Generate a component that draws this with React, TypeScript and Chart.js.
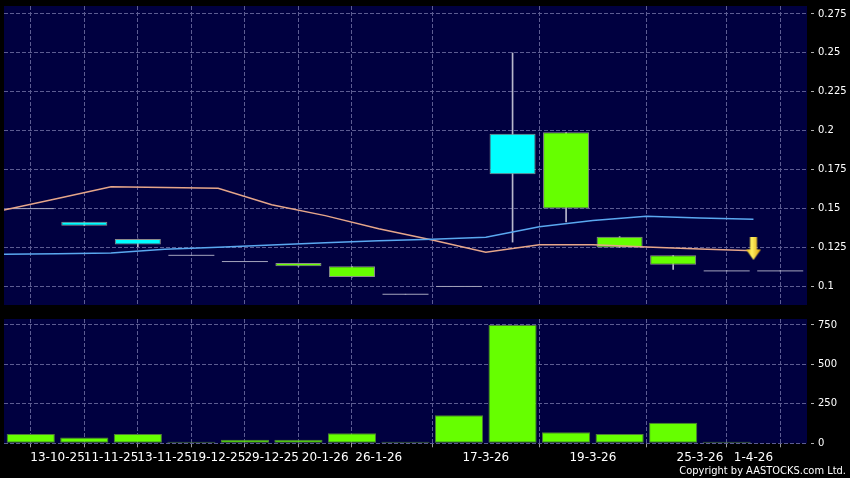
import React, { useEffect, useRef } from 'react';
import { Chart, registerables } from 'chart.js';

Chart.register(...registerables);

// ---------- data ----------
const dateLabels = ['', '13-10-25', '11-11-25', '13-11-25', '19-12-25', '29-12-25', '20-1-26', '26-1-26', '', '17-3-26', '', '19-3-26', '', '25-3-26', '1-4-26'];
const openP = [0.15, 0.139, 0.127, 0.12, 0.116, 0.115, 0.113, 0.095, 0.1, 0.172, 0.199, 0.132, 0.12, 0.11, 0.11];
const highP = [0.15, 0.1415, 0.1305, 0.12, 0.116, 0.115, 0.113, 0.095, 0.1, 0.25, 0.199, 0.132, 0.12, 0.11, 0.11];
const lowP = [0.15, 0.139, 0.1255, 0.12, 0.116, 0.113, 0.106, 0.095, 0.1, 0.1285, 0.1415, 0.125, 0.111, 0.11, 0.11];
const closeP = [0.15, 0.1415, 0.1305, 0.12, 0.116, 0.113, 0.106, 0.095, 0.1, 0.198, 0.15, 0.125, 0.114, 0.11, 0.11];
const maOrange = [0.1491, 0.1565, 0.1641, 0.1636, 0.1631, 0.1525, 0.1455, 0.1371, 0.1299, 0.122, 0.1268, 0.1268, 0.1254, 0.1241, 0.123];
const maBlue = [0.1207, 0.121, 0.1215, 0.1239, 0.1252, 0.1267, 0.1281, 0.1294, 0.1303, 0.1316, 0.1384, 0.1423, 0.1451, 0.144, 0.1432];
const volume = [59, 36, 59, 10, 23, 23, 63, 10, 178, 750, 70, 59, 131, 10, 0];
const priceTicks = [0.1, 0.125, 0.15, 0.175, 0.2, 0.225, 0.25, 0.275];
const volumeTicks = [0, 250, 500, 750];
const priceRange = [0.0881, 0.2801];
const volumeRange = [0, 788];
const signalIndex = 14;
const signalPrice = 0.1241;
const copyrightText = 'Copyright by AASTOCKS.com Ltd.';

// ---------- styles ----------
const NAVY = '#000040';
const GRID = '#5c5c92';
const CYAN = '#00ffff';
const LIME = '#66ff00';
const FONT = 'DejaVu Sans';

const plotBg = {
  id: 'plotBg',
  beforeDraw(chart: any) {
    const { ctx, chartArea: a } = chart;
    ctx.save();
    ctx.fillStyle = NAVY;
    ctx.fillRect(a.left, a.top, a.right - a.left, a.bottom - a.top);
    ctx.restore();
  },
};

function xScale(showLabels: boolean, axisHeight: number) {
  return {
    type: 'linear',
    min: -0.5,
    max: dateLabels.length - 0.5,
    offset: false,
    afterBuildTicks: (s: any) => {
      s.ticks = dateLabels
        .map((d, i) => ({ value: i - 0.5, label: d }))
        .filter((t) => t.label !== '');
    },
    afterFit: (s: any) => {
      s.height = axisHeight;
      s.paddingLeft = 0;
      s.paddingRight = 0;
      s.paddingTop = 0;
      s.paddingBottom = 0;
    },
    ticks: {
      display: showLabels,
      autoSkip: false,
      maxRotation: 0,
      minRotation: 0,
      padding: 3,
      color: '#ffffff',
      font: { family: FONT, size: 12 },
      callback: (v: number) => dateLabels[Math.round(v + 0.5)],
    },
    grid: {
      color: GRID,
      lineWidth: 1,
      drawTicks: showLabels,
      tickLength: 4,
      tickColor: '#9a9a9a',
    },
    border: { display: false, dash: [4, 2] },
  };
}

function yScale(tickValues: number[], range: number[]) {
  return {
    type: 'linear',
    position: 'right',
    min: range[0],
    max: range[1],
    afterBuildTicks: (s: any) => {
      s.ticks = tickValues.map((v) => ({ value: v }));
    },
    afterFit: (s: any) => {
      s.width = 39;
      s.paddingLeft = 0;
      s.paddingRight = 0;
      s.paddingTop = 0;
      s.paddingBottom = 0;
    },
    ticks: {
      color: '#ffffff',
      padding: 4,
      font: { family: FONT, size: 10 },
      callback: (v: number) => String(v),
    },
    grid: {
      color: GRID,
      lineWidth: 1,
      drawTicks: true,
      tickLength: 7,
      tickColor: '#b0b0b0',
      tickBorderDash: [0, 4, 3, 20],
    },
    border: { display: false, dash: [4, 2] },
  };
}

function makeArrow() {
  const cv = document.createElement('canvas');
  cv.width = 16;
  cv.height = 23;
  const c = cv.getContext('2d')!;
  const g = c.createLinearGradient(0, 0, 16, 0);
  g.addColorStop(0, '#e0b000');
  g.addColorStop(0.4, '#fff060');
  g.addColorStop(1, '#d89a00');
  c.fillStyle = g;
  c.fillRect(4.5, 0, 7, 12);
  c.beginPath();
  c.moveTo(0.5, 12);
  c.lineTo(15.5, 12);
  c.lineTo(8, 22.5);
  c.closePath();
  c.fill();
  return cv;
}

export default function App() {
  const topRef = useRef<HTMLCanvasElement>(null);
  const botRef = useRef<HTMLCanvasElement>(null);

  useEffect(() => {
    document.body.style.margin = '0';
    document.body.style.background = '#000';
    const idx = openP.map((_, i) => i);
    const flat = idx.filter((i) => openP[i] === closeP[i] && highP[i] === lowP[i]);

    const top = new Chart(topRef.current!, {
      type: 'bar',
      data: {
        datasets: [
          {
            type: 'bar',
            data: idx.map((i) => ({ x: i, y: [lowP[i], highP[i]] })),
            backgroundColor: '#b8b8cc',
            borderWidth: 0,
            barThickness: 1,
            grouped: false,
            order: 5,
          } as any,
          {
            type: 'bar',
            data: idx.map((i) => ({ x: i, y: [openP[i], closeP[i]] })),
            backgroundColor: idx.map((i) => (closeP[i] > openP[i] ? CYAN : LIME)),
            borderColor: '#8c8c8c',
            borderWidth: 1,
            borderSkipped: false,
            barPercentage: 0.86,
            categoryPercentage: 1,
            grouped: false,
            order: 4,
          } as any,
          {
            type: 'line',
            showLine: false,
            data: flat.map((i) => ({ x: i, y: closeP[i] })),
            pointStyle: 'line',
            pointRadius: 23,
            pointBorderColor: '#a4a4bc',
            pointBorderWidth: 1,
            order: 3,
          } as any,
          {
            type: 'line',
            data: maOrange.map((v, i) => ({ x: i - 0.5, y: v })),
            borderColor: '#e6a68a',
            borderWidth: 1.5,
            pointRadius: 0,
            tension: 0,
            order: 2,
          } as any,
          {
            type: 'line',
            data: maBlue.map((v, i) => ({ x: i - 0.5, y: v })),
            borderColor: '#5aa8f0',
            borderWidth: 1.5,
            pointRadius: 0,
            tension: 0,
            order: 1,
          } as any,
          {
            type: 'line',
            showLine: false,
            data: [{ x: signalIndex - 0.5, y: signalPrice }],
            pointStyle: makeArrow(),
            pointRadius: 10,
            order: 0,
          } as any,
        ],
      },
      options: {
        responsive: false,
        animation: false,
        layout: { autoPadding: false, padding: { left: 4, right: 4, top: 6, bottom: 5 } },
        plugins: { legend: { display: false }, tooltip: { enabled: false }, title: { display: false } },
        scales: {
          x: xScale(false, 0) as any,
          y: yScale(priceTicks, priceRange) as any,
        },
      },
      plugins: [plotBg],
    });

    const bot = new Chart(botRef.current!, {
      type: 'bar',
      data: {
        datasets: [
          {
            data: idx.map((i) => ({ x: i, y: volume[i] })),
            backgroundColor: LIME,
            borderColor: '#4e7e36',
            borderWidth: 1,
            borderSkipped: false,
            barPercentage: 0.9,
            categoryPercentage: 1,
          } as any,
        ],
      },
      options: {
        responsive: false,
        animation: false,
        layout: { autoPadding: false, padding: { left: 4, right: 4, top: 9, bottom: 0 } },
        plugins: {
          legend: { display: false },
          tooltip: { enabled: false },
          title: {
            display: true,
            text: copyrightText,
            position: 'bottom',
            align: 'end',
            color: '#ffffff',
            font: { family: 'DejaVu Sans Condensed', size: 11, weight: 'normal' },
            padding: { top: 0, bottom: 0 },
          },
        },
        scales: {
          x: xScale(true, 21.5) as any,
          y: yScale(volumeTicks, volumeRange) as any,
        },
      },
      plugins: [plotBg],
    });

    return () => {
      top.destroy();
      bot.destroy();
    };
  }, []);

  return (
    <div style={{ position: 'relative', width: 850, height: 478, background: '#000', overflow: 'hidden' }}>
      <canvas ref={topRef} width={850} height={310} style={{ position: 'absolute', left: 0, top: 0, display: 'block' }} />
      <canvas ref={botRef} width={850} height={168} style={{ position: 'absolute', left: 0, top: 310, display: 'block' }} />
    </div>
  );
}
